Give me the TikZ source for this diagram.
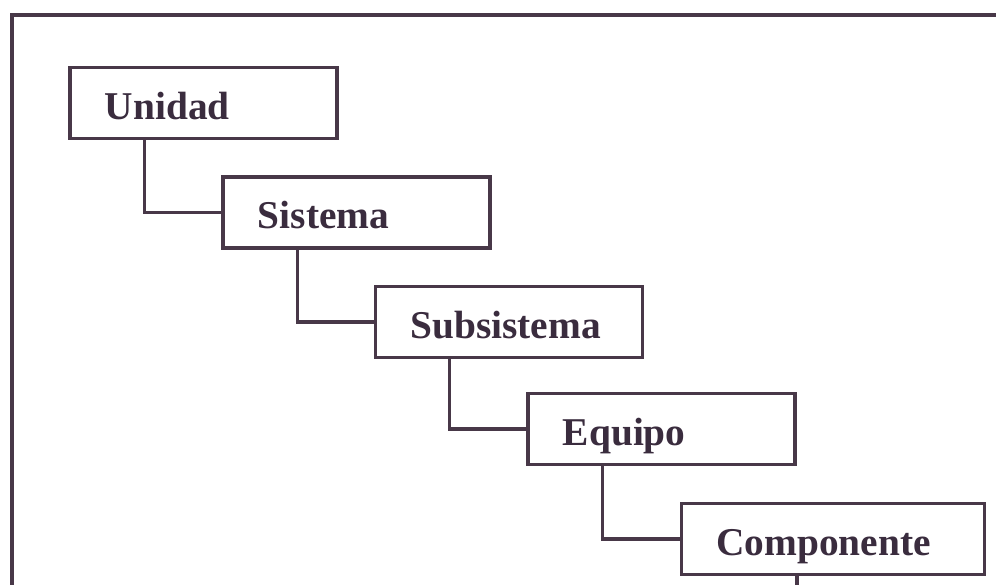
\documentclass[tikz,border=0pt]{standalone}
\usepackage{fontspec}
\setmainfont{Liberation Serif}
\definecolor{lc}{RGB}{72,56,72}
\definecolor{tc}{RGB}{58,44,62}
\begin{document}
\begin{tikzpicture}[x=0.025cm,y=-0.025cm,
  level/.style={draw=lc, line width=2.2pt, rectangle, minimum height=1.775cm,
    inner xsep=0.875cm, inner ysep=0pt, text height=0.9cm, text depth=0.1cm,
    align=left, anchor=center, font=\fontsize{28pt}{30pt}\selectfont\bfseries, text=tc},
  conn/.style={draw=lc, line width=2.2pt}]
\useasboundingbox (0,0) rectangle (996,585);
\fill[white] (0,0) rectangle (996,585);
% frame
\coordinate (fbl) at (12,590);
\coordinate (ftl) at (12,15);
\coordinate (ftr) at (1000,15);
\draw[conn] (fbl) -- (ftl) -- (ftr);
% boxes
\node[level, text width=4.925cm] (u) at (203.5,103) {Unidad};
\node[level, text width=4.925cm] (s) at (356.5,212.5) {Sistema};
\node[level, text width=4.925cm] (ss) at (509,322) {Subsistema};
\node[level, text width=4.925cm] (e) at (661.5,429) {Equipo};
\node[level, text width=5.825cm] (c) at (833,539) {Componente};
% connectors
\draw[conn] (u.south west) ++(76,0) |- (s.west);
\draw[conn] (s.south west) ++(76,0) |- (ss.west);
\draw[conn] (ss.south west) ++(76,0) |- (e.west);
\draw[conn] (e.south west) ++(76,0) |- (c.west);
\coordinate (cend) at (797,592);
\draw[conn] (c.south -| cend) -- (cend);
\end{tikzpicture}
\end{document}
